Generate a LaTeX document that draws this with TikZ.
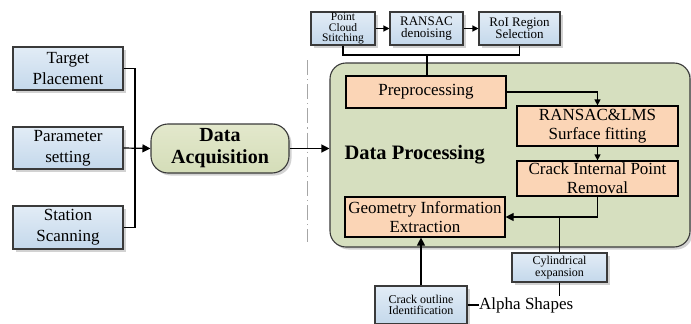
\documentclass[tikz,border=0pt]{standalone}
\usepackage{fontspec}
\setmainfont{Liberation Serif}
\usetikzlibrary{arrows.meta,shadows,calc}
\definecolor{boxline}{HTML}{3A3A3A}
\definecolor{bluetop}{HTML}{E2ECF6}
\definecolor{bluebot}{HTML}{C4D8EB}
\definecolor{greentop}{HTML}{E3E8CC}
\definecolor{greenbot}{HTML}{D4DDB8}
\definecolor{dpfill}{HTML}{D6DFBF}
\definecolor{peach}{HTML}{FBD5B6}
\tikzset{
  shad/.style={drop shadow={shadow xshift=2.5pt,shadow yshift=-2.5pt,fill=black!35}},
  bluebox/.style={draw=boxline,line width=1.1pt,top color=bluetop,bottom color=bluebot,shad,
    inner sep=0pt,align=center,font=\fontsize{17}{21}\selectfont},
  smallbox/.style={bluebox,font=\fontsize{12}{11.5}\selectfont},
  peachbox/.style={draw=black,line width=1.2pt,fill=peach,inner sep=0pt,align=center,
    font=\fontsize{17}{19}\selectfont},
  conn/.style={line width=1.2pt,black},
  arr/.style={conn,-{Triangle[length=8pt,width=8pt]}},
  sarr/.style={conn,-{Triangle[length=6pt,width=6pt]}}
}
\begin{document}
\begin{tikzpicture}[x=1pt,y=-1pt]
\useasboundingbox (0,0) rectangle (691,324);
% left inputs
\node[bluebox,minimum width=110pt,minimum height=43pt] (tp) at (68,68.5) {Target\\Placement};
\node[bluebox,minimum width=110pt,minimum height=42pt] (ps) at (68,148) {Parameter\\setting};
\node[bluebox,minimum width=110pt,minimum height=43pt] (ss) at (68,227.5) {Station\\Scanning};
\node[draw=boxline,line width=1.1pt,top color=greentop,bottom color=greenbot,shad,
  rounded corners=17pt,minimum width=138pt,minimum height=49pt,inner sep=0pt,align=center,
  font=\fontsize{20}{22}\selectfont\bfseries] (da) at (220,148.5) {Data\\Acquisition};
\coordinate (bk) at (135,148);
\draw[conn] (tp.east) -| (bk) |- (ss.east);
\draw[arr] (ps.east) -- (da.west);
% dash-dot separator
\draw[gray!70,line width=1pt,dash pattern=on 15pt off 4pt on 1.2pt off 4pt] (307,60) -- (307,242);
% data processing container
\node[draw=boxline,line width=1.1pt,fill=dpfill,shad,rounded corners=16pt,
  minimum width=360pt,minimum height=184pt,inner sep=0pt] (dp) at (510,155) {};
\draw[arr] (da.east) -- (da.east -| dp.west);
\node[font=\fontsize{20.5}{22}\selectfont\bfseries,anchor=west] (dpt) at (341,155) {Data Processing};
% top preprocessing steps
\node[smallbox,minimum width=64pt,minimum height=33pt,font=\fontsize{11.5}{10.2}\selectfont] (pcs) at (343,28.5) {Point\\Cloud\\Stitching};
\node[smallbox,minimum width=73pt,minimum height=33pt,font=\fontsize{13}{12}\selectfont] (rd) at (426.5,28.5) {RANSAC\\denoising};
\node[smallbox,minimum width=81pt,minimum height=33pt,font=\fontsize{13}{12}\selectfont] (roi) at (519.5,28.5) {RoI Region\\Selection};
\draw[sarr] (pcs.east) -- (rd.west);
\draw[sarr] (rd.east) -- (roi.west);
% inner steps
\node[peachbox,minimum width=160pt,minimum height=32pt] (pre) at (426,92) {Preprocessing};
\node[peachbox,minimum width=161pt,minimum height=40pt] (rl) at (597.5,126) {RANSAC\&LMS\\Surface fitting};
\node[peachbox,minimum width=161pt,minimum height=35pt] (cipr) at (597.5,178.5) {Crack Internal Point\\Removal};
\node[peachbox,minimum width=160pt,minimum height=40pt] (gie) at (425,217) {Geometry Information\\Extraction};
\coordinate (tb) at (427,55);
\draw[conn] (pcs.south) |- (tb) -| (roi.south);
\draw[conn] (tb) -- (tb |- pre.north);
\draw[sarr] (pre.east) -| (rl.north);
\draw[sarr] (rl.south) -- (cipr.north);
\draw[arr] (cipr.south) |- (gie.east);
% below
\node[smallbox,minimum width=95pt,minimum height=29pt] (ce) at (559.5,267.5) {Cylindrical\\expansion};
\coordinate (j) at (ce.north |- gie.east);
\draw[conn] (j) -- (ce.north);
\coordinate (ceend) at ($(ce.south)+(0,13)$);
\draw[conn] (ce.south) -- (ceend);
\node[smallbox,minimum width=92pt,minimum height=38pt] (coi) at (421,305) {Crack outline\\Identification};
\draw[arr] (coi.north) -- (coi.north |- gie.south);
\node[font=\fontsize{17}{19}\selectfont,anchor=west,inner sep=0pt] (as) at (479,305) {Alpha Shapes};
\draw[conn] (coi.east) -- (as.west);
\end{tikzpicture}
\end{document}
